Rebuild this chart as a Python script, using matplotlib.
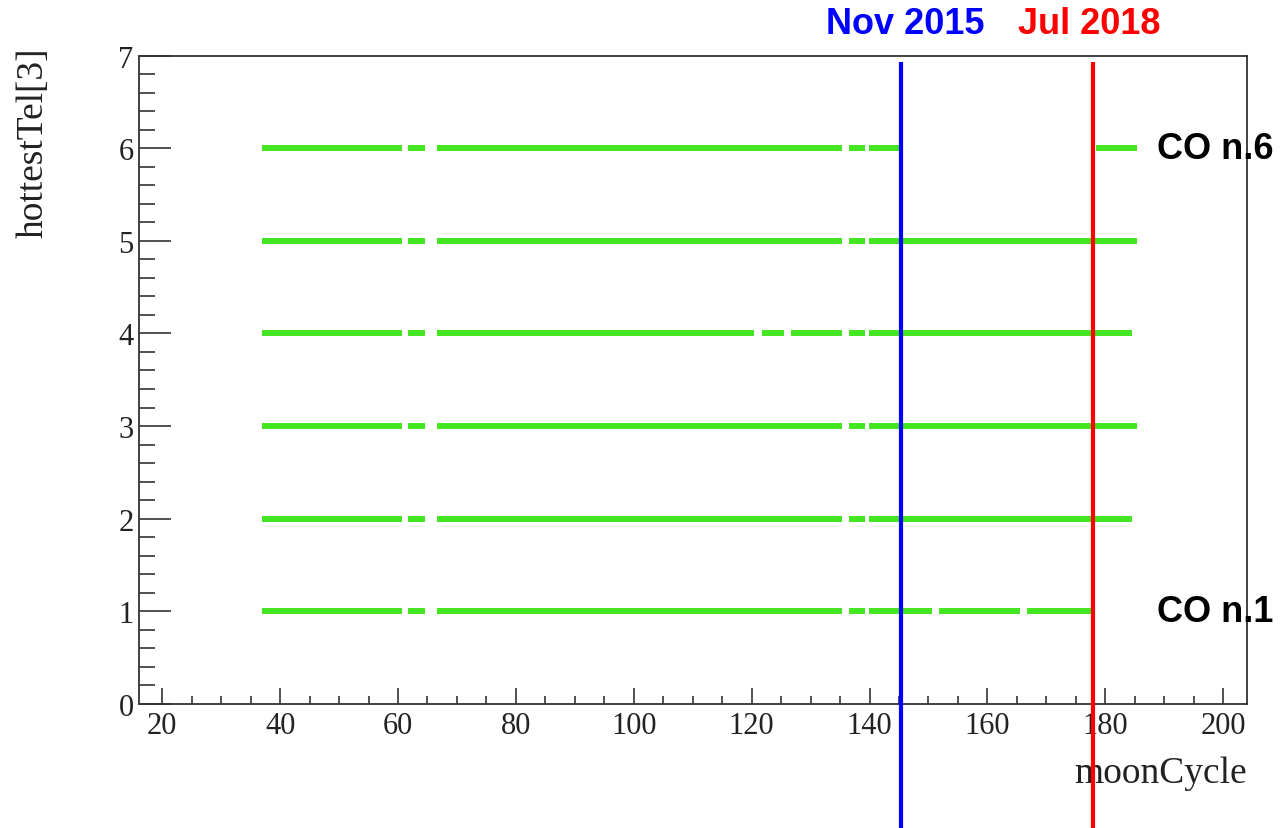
import matplotlib
matplotlib.use("Agg")
import matplotlib.pyplot as plt
from matplotlib.ticker import MultipleLocator

# ---- data (moonCycle ranges where each telescope is the hottest) ----
telescopes = [1, 2, 3, 4, 5, 6]
seg_starts = {
    6: [36.9, 61.7, 66.6, 136.5, 139.9, 178.5],
    5: [36.9, 61.7, 66.6, 136.5, 139.9],
    4: [36.9, 61.7, 66.6, 121.7, 126.6, 136.5, 139.9],
    3: [36.9, 61.7, 66.6, 136.5, 139.9],
    2: [36.9, 61.7, 66.6, 136.5, 139.9],
    1: [36.9, 61.7, 66.6, 136.5, 139.9, 151.8, 166.7],
}
seg_ends = {
    6: [60.6, 64.6, 135.3, 139.3, 145.3, 185.3],
    5: [60.6, 64.6, 135.3, 139.3, 185.3],
    4: [60.6, 64.6, 120.4, 125.5, 135.4, 139.3, 184.5],
    3: [60.6, 64.6, 135.3, 139.3, 185.3],
    2: [60.6, 64.6, 135.3, 139.3, 184.5],
    1: [60.6, 64.6, 135.3, 139.3, 150.6, 165.5, 177.7],
}
event_x = [145.3, 178.0]
event_labels = ["Nov 2015", "Jul 2018"]
event_colors = ["#0000ff", "#ff0000"]
row_labels = {6: "CO n.6", 1: "CO n.1"}

W, H = 1280, 829
fig = plt.figure(figsize=(W / 100, H / 100), dpi=100)
ax = fig.add_axes([139.3 / W, 1 - 704.8 / H, (1247.3 - 139.3) / W, (704.8 - 56.7) / H])

green = "#44e621"
for t in telescopes:
    ax.hlines([t] * len(seg_starts[t]), seg_starts[t], seg_ends[t],
              colors=green, linewidth=4.3, capstyle="butt", zorder=3)

ax.set_xlim(16.1, 204.1)
ax.set_ylim(0, 7)

serif = ["Liberation Serif", "DejaVu Serif"]
ax.xaxis.set_major_locator(MultipleLocator(20))
ax.xaxis.set_minor_locator(MultipleLocator(5))
ax.yaxis.set_major_locator(MultipleLocator(1))
ax.yaxis.set_minor_locator(MultipleLocator(0.2))
ax.tick_params(axis="x", which="major", direction="in", length=11.5, width=1.1,
               labelsize=22, pad=5, colors="#222222")
ax.tick_params(axis="x", which="minor", direction="in", length=5.8, width=1.1,
               colors="#222222")
ax.tick_params(axis="y", which="major", direction="in", length=23, width=1.1,
               labelsize=22, pad=4, colors="#222222")
ax.tick_params(axis="y", which="minor", direction="in", length=11.5, width=1.1,
               colors="#222222")
for lab in ax.get_xticklabels() + ax.get_yticklabels():
    lab.set_family(serif)
for s in ax.spines.values():
    s.set_linewidth(1.3)
    s.set_color("#333333")

ax.set_xlabel("moonCycle", family=serif, fontsize=27, color="#222222")
ax.xaxis.set_label_coords(1.0, -0.08)
ax.xaxis.label.set_horizontalalignment("right")
ax.set_ylabel("hottestTel[3]", family=serif, fontsize=27, color="#222222")
ax.yaxis.set_label_coords(-0.08, 1.014)
ax.yaxis.label.set_horizontalalignment("right")

# vertical event lines, extending below the frame
for xv, col in zip(event_x, event_colors):
    ax.plot([xv, xv], [6.93, -1.4], color=col, linewidth=3.0, clip_on=False,
            zorder=6, solid_capstyle="butt")

sans = ["Liberation Sans", "DejaVu Sans"]
text_x_px = [905, 1089]
for lbl, col, xp in zip(event_labels, event_colors, text_x_px):
    fig.text(xp / W, 1 - 34 / H, lbl, color=col, fontsize=26, fontweight="bold",
             family=sans, ha="center", va="baseline")

for t, lbl in row_labels.items():
    ax.annotate(lbl, xy=(1157 / W, t), xycoords=("figure fraction", "data"),
                fontsize=26, fontweight="bold", family=sans, ha="left",
                va="center", color="black", annotation_clip=False)

fig.savefig("out.png", dpi=100)
